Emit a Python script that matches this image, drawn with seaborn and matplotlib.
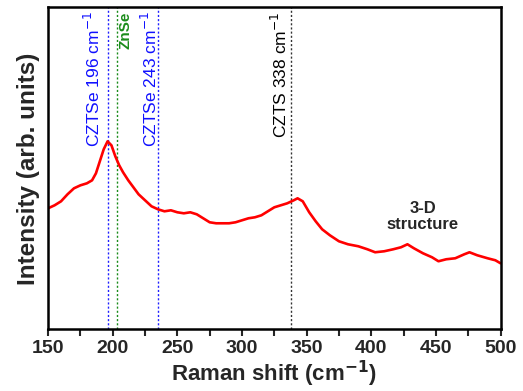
import pandas as pd
import matplotlib.pyplot as plt
import seaborn as sns
from matplotlib.ticker import MultipleLocator

# Raman spectrum (arbitrary units)
raman_shift = [150, 155, 160, 165, 170, 175, 180, 184, 187, 190, 193, 196, 199, 202, 205,
               208, 212, 216, 220, 225, 230, 235, 240, 245, 250, 255, 260, 265, 270, 275,
               280, 285, 290, 295, 300, 305, 310, 315, 320, 325, 330, 335, 340, 343, 347,
               352, 357, 362, 368, 375, 382, 390, 397, 403, 410, 417, 423, 428, 433, 440,
               447, 452, 458, 465, 472, 476, 482, 490, 496, 500]
intensity = [121, 124, 128, 135, 141, 144, 146, 149, 156, 168, 180, 188, 184, 173, 164,
             157, 149, 142, 135, 129, 123, 120, 118, 119, 117, 116, 117, 115, 111, 107,
             106, 106, 106, 107, 109, 111, 112, 114, 118, 122, 124, 126, 129, 131, 128,
             117, 108, 100, 94, 88, 85, 83, 80, 77, 78, 80, 82, 85, 81, 76,
             72, 68, 70, 71, 75, 77, 74, 71, 69, 66]

# reference peak positions
peak_pos = [196, 203, 235, 338]
peak_labels = ['CZTSe 196 cm$^{-1}$', 'ZnSe', 'CZTSe 243 cm$^{-1}$', 'CZTS 338 cm$^{-1}$']
peak_colors = ['#2020ff', '#1a8c1a', '#2020ff', '#333333']
label_colors = ['#1010ff', '#1a8c1a', '#1010ff', '#000000']

df = pd.DataFrame({'Raman shift': raman_shift, 'Intensity': intensity})

sns.set_theme(style="ticks")
plt.rcParams['font.family'] = ['Liberation Sans', 'DejaVu Sans']

fig = plt.figure(figsize=(5.23, 3.91), dpi=100)
ax = fig.add_axes([0.092, 0.158, 0.865, 0.823])

for pos, col in zip(peak_pos, peak_colors):
    ax.axvline(pos, color=col, linestyle=(0, (1.5, 1.5)), linewidth=1)

sns.lineplot(data=df, x='Raman shift', y='Intensity', color='red', linewidth=1.9, ax=ax)

# peak labels, rotated
text_x = [184.5, 210, 228.5, 329]
for tx, lab, col in zip(text_x, peak_labels, label_colors):
    if lab == 'ZnSe':
        ax.text(tx, 318, lab, rotation=90, color=col, fontsize=11,
                ha='center', va='top', fontweight='bold')
    else:
        ax.text(tx, 318, lab, rotation=90, color=col, fontsize=12.5,
                ha='center', va='top')

ax.text(440, 113, '3-D\nstructure', fontsize=12, fontweight='bold',
        ha='center', va='center', linespacing=1.1)

ax.set_xlim(150, 500)
ax.set_ylim(0, 322)
ax.set_yticks([])
ax.xaxis.set_major_locator(MultipleLocator(50))
ax.xaxis.set_minor_locator(MultipleLocator(25))
ax.tick_params(axis='x', which='both', direction='out', length=5, width=1.5,
               labelsize=14, pad=3)
for lbl in ax.get_xticklabels():
    lbl.set_fontweight('bold')
for sp in ax.spines.values():
    sp.set_linewidth(1.8)
    sp.set_color('black')

ax.set_xlabel('Raman shift (cm$^{\\mathbf{-1}}$)', fontsize=16, fontweight='bold', labelpad=1)
ax.set_ylabel('Intensity (arb. units)', fontsize=17.5, fontweight='bold', labelpad=6)

fig.savefig('out.png', dpi=100)
